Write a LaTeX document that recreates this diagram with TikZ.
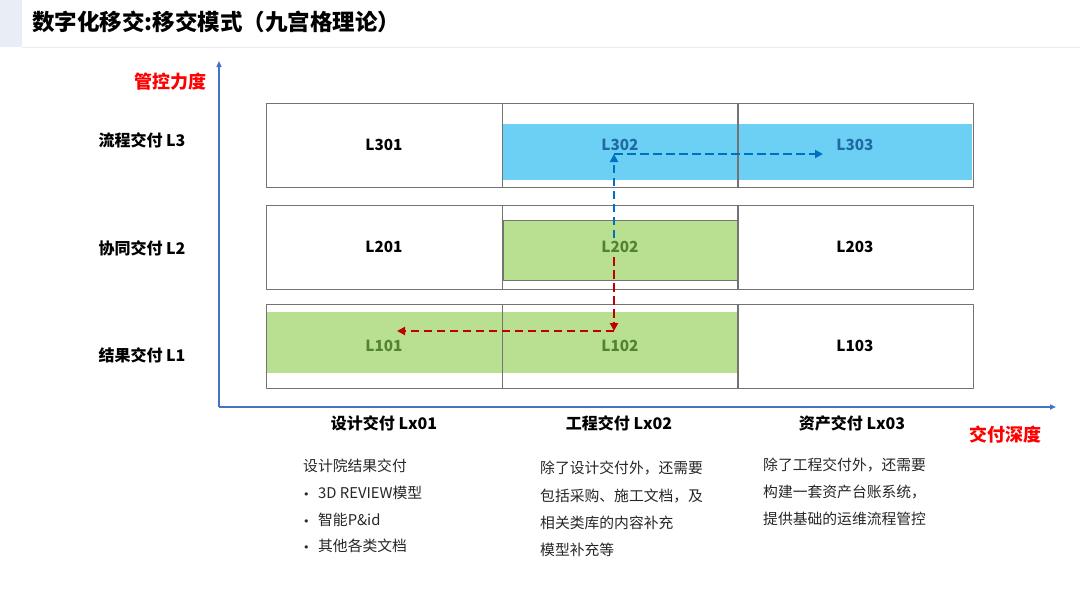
\documentclass[tikz,border=0pt]{standalone}
\usepackage{fontspec}
\setmainfont{Noto Sans CJK SC}
\newfontfamily\bulletfont{DejaVu Sans}
\usetikzlibrary{arrows.meta}
\definecolor{axisblue}{RGB}{68,114,196}
\definecolor{bandblue}{RGB}{108,208,245}
\definecolor{bandgreen}{RGB}{185,224,145}
\definecolor{txtblue}{RGB}{31,106,165}
\definecolor{txtgreen}{RGB}{84,130,53}
\definecolor{flowblue}{RGB}{0,112,192}
\definecolor{flowred}{RGB}{192,0,0}
\definecolor{titlebar}{RGB}{233,238,246}
\newcommand{\notebullet}{{\bulletfont\fontsize{11}{14}\selectfont •}\hspace{8.5pt}}
\begin{document}
\begin{tikzpicture}[x=1pt,y=-1pt,line join=round,
  cell/.style={draw=black!55,line width=0.9pt,minimum width=236pt,minimum height=84pt,inner sep=0pt,font=\fontsize{15.3}{18}\selectfont\bfseries},
  rowlabel/.style={font=\fontsize{16}{18}\selectfont\bfseries,inner sep=0pt},
  axislabel/.style={font=\fontsize{18}{20}\selectfont\bfseries,text=red,inner sep=0pt},
  notes/.style={font=\fontsize{14.8}{18}\selectfont,text=black!85,anchor=west,inner sep=0pt},
  flow/.style={line width=2.6pt,dash pattern=on 8.5pt off 4.5pt,-{Triangle[length=8pt,width=8pt]}}]
\useasboundingbox (0,0) rectangle (1080,608);
% title bar
\fill[titlebar] (0,0) rectangle (22,47);
\draw[black!8,line width=1pt] (22,47) -- (1080,47);
\node[font=\fontsize{22.5}{26}\selectfont\bfseries,anchor=west,inner sep=0pt] (title) at (32,22) {数字化移交:移交模式（九宫格理论）};
% axes
\coordinate (o) at (219,407);
\coordinate (ytop) at (219,61);
\coordinate (xend) at (1056,407);
\draw[axisblue,line width=1.4pt,-{Triangle[length=6pt,width=5pt]}] (o) -- (ytop);
\draw[axisblue,line width=1.4pt,-{Triangle[length=6pt,width=5pt]}] (o) -- (xend);
\node[axislabel] (yname) at (170,82) {管控力度};
\node[axislabel] (xname) at (1005,435) {交付深度};
% bands
\fill[bandblue] (502,124) rectangle (972,180);
\fill[bandgreen] (266,312) rectangle (737,373);
\fill[bandgreen] (503,220) rectangle (738,280);
\draw[black!55,line width=0.9pt] (503,220) rectangle (738,280);
% cells
\node[cell] (c31) at (384,145) {L301};
\node[cell,text=txtblue] (c32) at (620,145) {L302};
\node[cell,text=txtblue] (c33) at (855,145) {L303};
\node[cell] (c21) at (384,247) {L201};
\node[cell,text=txtgreen] (c22) at (620,247) {L202};
\node[cell] (c23) at (855,247) {L203};
\node[cell,text=txtgreen] (c11) at (384,346) {L101};
\node[cell,text=txtgreen] (c12) at (620,346) {L102};
\node[cell] (c13) at (855,346) {L103};
% row and column labels
\node[rowlabel] (r3) at (142,140) {流程交付 L3};
\node[rowlabel] (r2) at (142,248) {协同交付 L2};
\node[rowlabel] (r1) at (142,355) {结果交付 L1};
\node[rowlabel] (k1) at (384,423) {设计交付 Lx01};
\node[rowlabel] (k2) at (619,423) {工程交付 Lx02};
\node[rowlabel] (k3) at (852,423) {资产交付 Lx03};
% paths
\coordinate (b0) at (614,238);
\coordinate (b1) at (614,154);
\coordinate (b2) at (823,154);
\draw[flow,flowblue] (b0) -- (b1);
\draw[flow,flowblue] (b1) -- (b2);
\coordinate (d0) at (614,257);
\coordinate (d1) at (614,331);
\coordinate (d2) at (397,331);
\draw[flow,flowred] (d0) -- (d1);
\draw[flow,flowred] (d1) -- (d2);
% notes
\node[notes] (n10) at (303,466) {设计院结果交付};
\node[notes] (n11) at (303,493) {\notebullet 3D REVIEW模型};
\node[notes] (n12) at (303,520) {\notebullet 智能P\&id};
\node[notes] (n13) at (303,546) {\notebullet 其他各类文档};
\node[notes] (n20) at (540,468) {除了设计交付外，还需要};
\node[notes] (n21) at (540,496) {包括采购、施工文档，及};
\node[notes] (n22) at (540,523) {相关类库的内容补充};
\node[notes] (n23) at (540,550) {模型补充等};
\node[notes] (n30) at (763,465) {除了工程交付外，还需要};
\node[notes] (n31) at (763,492) {构建一套资产台账系统，};
\node[notes] (n32) at (763,519) {提供基础的运维流程管控};
\end{tikzpicture}
\end{document}
